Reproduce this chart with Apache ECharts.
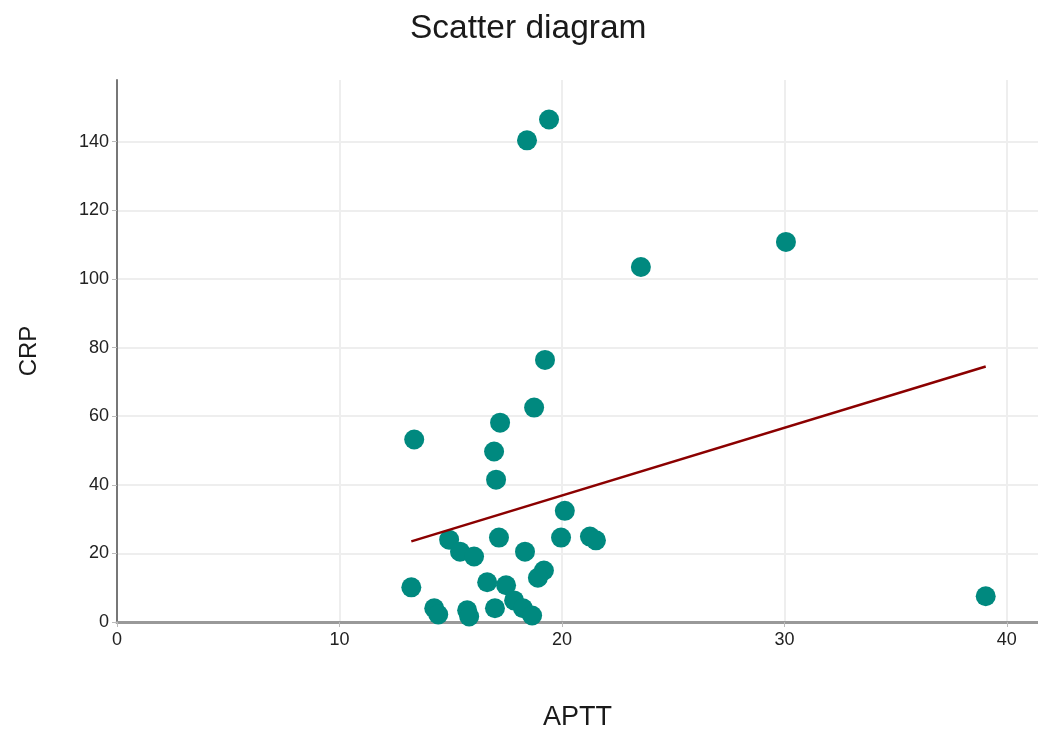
<!DOCTYPE html>
<html>
<head>
<meta charset="utf-8">
<script src="https://cdn.jsdelivr.net/npm/echarts@6/dist/echarts.min.js"></script>
<style>
  html, body { margin: 0; padding: 0; background: #fff; }
  #chart { width: 1038px; height: 733px; }
</style>
</head>
<body>
<div id="chart"></div>
<script>
// APTT (x) and CRP (y) for each patient
const aptt = [19.42, 18.43, 23.55, 30.07, 19.24, 18.75, 17.22, 13.36, 16.95, 17.04,
              20.13, 14.93, 17.17, 19.96, 21.26, 21.53, 15.42, 16.05, 18.34, 19.19,
              18.92, 16.64, 17.49, 13.23, 17.85, 18.25, 18.66, 16.99, 14.26, 14.44,
              15.74, 15.83, 39.05];
const crp = [146.5, 140.4, 103.5, 110.8, 76.4, 62.5, 58.1, 53.2, 49.7, 41.5,
             32.4, 24.0, 24.6, 24.6, 24.9, 23.8, 20.5, 19.1, 20.5, 15.0,
             12.9, 11.6, 10.7, 10.1, 6.3, 4.0, 1.9, 4.0, 4.0, 2.2,
             3.4, 1.6, 7.5];

// fitted trend line, drawn across the APTT range
const trendX = [13.23, 39.05];
const trendY = [23.5, 74.5];

const xTicks = [0, 10, 20, 30, 40];
const yTicks = [0, 20, 40, 60, 80, 100, 120, 140];

const font = "'Liberation Sans', Arial, sans-serif";

const points = aptt.map((x, i) => [x, crp[i]]);
const trend = trendX.map((x, i) => [x, trendY[i]]);

const chart = echarts.init(document.getElementById('chart'), null, { renderer: 'canvas' });
chart.setOption({
  animation: false,
  backgroundColor: '#ffffff',
  title: {
    text: 'Scatter diagram',
    left: 405,
    top: 7,
    textStyle: { fontFamily: font, fontSize: 33.5, fontWeight: 'normal', color: '#1a1a1a' }
  },
  grid: { left: 117, right: 0, top: 80, bottom: 111, containLabel: false, outerBoundsMode: 'none' },
  xAxis: {
    type: 'value',
    min: 0,
    max: 41.4,
    interval: 10,
    name: 'APTT',
    nameLocation: 'middle',
    nameGap: 82,
    nameTextStyle: { fontFamily: font, fontSize: 27, color: '#1a1a1a' },
    axisLine: { show: true, onZero: false, lineStyle: { color: '#999', width: 3 } },
    axisTick: { show: true, length: 5, customValues: xTicks, lineStyle: { color: '#bbb' } },
    axisLabel: { customValues: xTicks, fontFamily: font, fontSize: 18, color: '#222', margin: 9 },
    splitLine: { show: true, lineStyle: { color: '#eeeeee', width: 2 } }
  },
  yAxis: {
    type: 'value',
    min: 0,
    max: 158,
    interval: 20,
    name: 'CRP',
    nameLocation: 'middle',
    nameGap: 76,
    nameTextStyle: { fontFamily: font, fontSize: 24, color: '#1a1a1a' },
    axisLine: { show: true, onZero: false, lineStyle: { color: '#777', width: 2 } },
    axisTick: { show: true, length: 5, customValues: yTicks, lineStyle: { color: '#bbb' } },
    axisLabel: { customValues: yTicks, fontFamily: font, fontSize: 18, color: '#222', margin: 8 },
    splitLine: { show: true, lineStyle: { color: '#eeeeee', width: 2 } }
  },
  series: [
    {
      type: 'scatter',
      data: points,
      symbolSize: 20,
      itemStyle: { color: '#00897f', opacity: 1 },
      z: 2
    },
    {
      type: 'line',
      data: trend,
      symbol: 'none',
      lineStyle: { color: '#8b0000', width: 2.5 },
      z: 3
    }
  ]
});
</script>
</body>
</html>
